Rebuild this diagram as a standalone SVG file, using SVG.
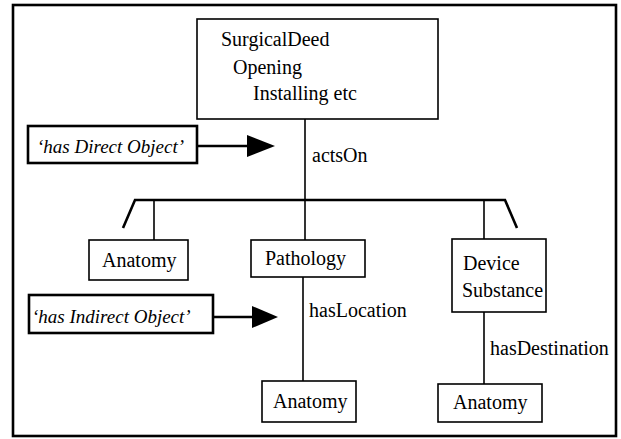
<svg xmlns="http://www.w3.org/2000/svg" width="621" height="439" viewBox="0 0 621 439">
<defs>
<rect id="unused" width="0" height="0"/>
</defs>
<rect width="621" height="439" fill="#fff"/>
<rect x="13" y="5" width="603" height="431" fill="none" stroke="#000" stroke-width="2.6"/>
<g id="connectors" stroke="#000" fill="none">
<line stroke-width="1.6" x1="305" y1="119" x2="305" y2="200"/>
<polyline stroke-width="2.6" points="123,228 135,200 505,200 517,228"/>
<line stroke-width="1.6" x1="154" y1="200" x2="154" y2="240"/>
<line stroke-width="1.6" x1="305" y1="200" x2="305" y2="240"/>
<line stroke-width="1.6" x1="484" y1="200" x2="484" y2="239"/>
<line stroke-width="1.6" x1="303" y1="277" x2="303" y2="381"/>
<line stroke-width="1.6" x1="484" y1="312" x2="484" y2="384"/>
<line stroke-width="2.6" x1="197" y1="146" x2="247" y2="146"/>
<path d="M247,135 L275,146 L247,157 Z" fill="#000" stroke="none"/>
<line stroke-width="2.6" x1="213" y1="317" x2="252" y2="317"/>
<path d="M252,306 L278,317 L252,328 Z" fill="#000" stroke="none"/>
</g>
<g id="labels">
<text x="312" y="162" font-family="Liberation Serif" font-size="20">actsOn</text>
<text x="309" y="317" font-family="Liberation Serif" font-size="20">hasLocation</text>
<text x="490" y="355" font-family="Liberation Serif" font-size="20">hasDestination</text>
</g>
<g id="surgicalDeed">
<rect x="197" y="19" width="241" height="100" fill="#fff" stroke="#000" stroke-width="1.6"/>
<text x="221" y="46" font-family="Liberation Serif" font-size="20">SurgicalDeed</text>
<text x="233" y="74" font-family="Liberation Serif" font-size="20">Opening</text>
<text x="253" y="100" font-family="Liberation Serif" font-size="20">Installing etc</text>
</g>
<g id="directObject">
<rect x="28" y="126" width="169" height="37" fill="#fff" stroke="#000" stroke-width="2.6"/>
<text x="37" y="153" font-family="Liberation Serif" font-size="19" font-style="italic">‘has Direct Object’</text>
</g>
<g id="indirectObject">
<rect x="29" y="295" width="184" height="38" fill="#fff" stroke="#000" stroke-width="2.6"/>
<text x="32" y="323" font-family="Liberation Serif" font-size="19" font-style="italic">‘has Indirect Object’</text>
</g>
<g id="anatomy1">
<rect x="89" y="240" width="99" height="40" fill="#fff" stroke="#000" stroke-width="1.6"/>
<text x="102" y="267" font-family="Liberation Serif" font-size="20">Anatomy</text>
</g>
<g id="pathology">
<rect x="251" y="240" width="114" height="37" fill="#fff" stroke="#000" stroke-width="1.6"/>
<text x="265" y="265" font-family="Liberation Serif" font-size="20">Pathology</text>
</g>
<g id="deviceSubstance">
<rect x="452" y="239" width="94" height="73" fill="#fff" stroke="#000" stroke-width="1.6"/>
<text x="463" y="270" font-family="Liberation Serif" font-size="20">Device</text>
<text x="462" y="297" font-family="Liberation Serif" font-size="20">Substance</text>
</g>
<g id="anatomy2">
<rect x="262" y="381" width="94" height="41" fill="#fff" stroke="#000" stroke-width="1.6"/>
<text x="273" y="408" font-family="Liberation Serif" font-size="20">Anatomy</text>
</g>
<g id="anatomy3">
<rect x="438" y="384" width="104" height="38" fill="#fff" stroke="#000" stroke-width="1.6"/>
<text x="453" y="409" font-family="Liberation Serif" font-size="20">Anatomy</text>
</g>
</svg>
